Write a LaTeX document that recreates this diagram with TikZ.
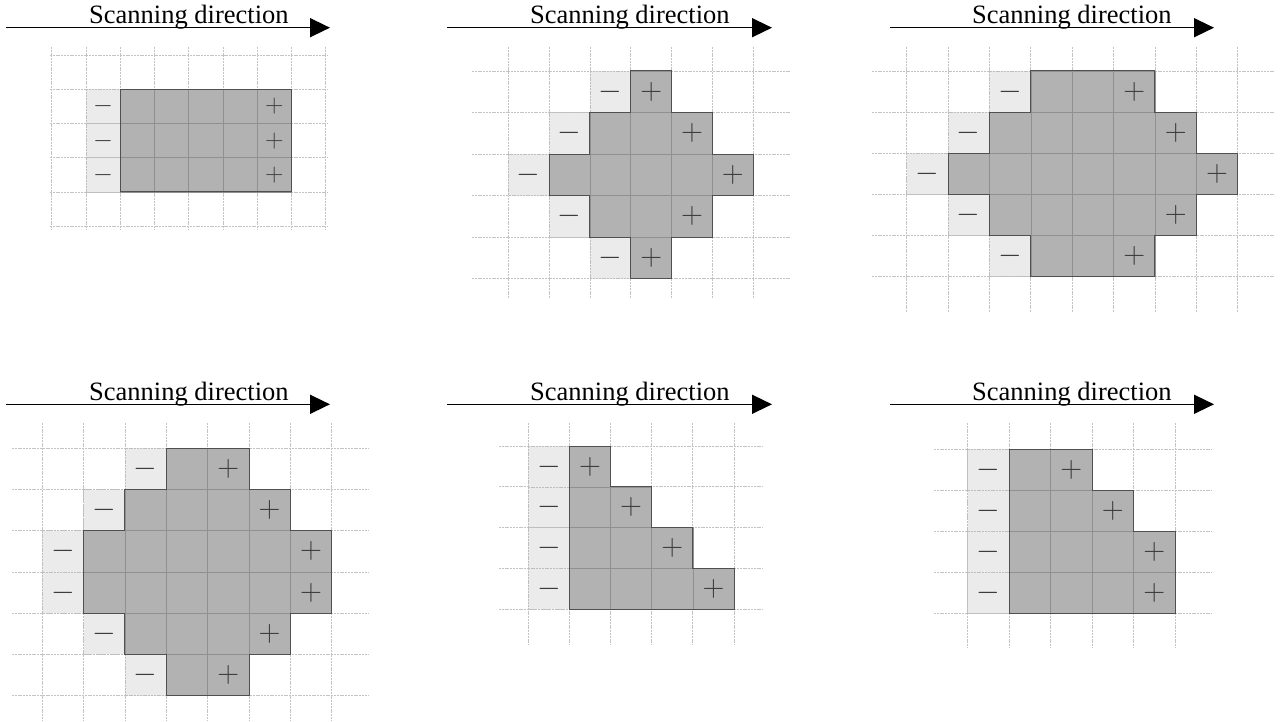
\documentclass[tikz,border=0pt]{standalone}
\usepackage{fontspec}
\newfontfamily\labelfont{Liberation Serif}
\usetikzlibrary{arrows.meta}
\definecolor{gridc}{HTML}{C4C4C4}
\definecolor{darkfill}{HTML}{B2B2B2}
\definecolor{lightfill}{HTML}{EBEBEB}
\definecolor{innerc}{HTML}{909090}
\definecolor{outlinec}{HTML}{505050}
\definecolor{symc}{HTML}{3C3C3C}
\definecolor{lightb}{HTML}{BEBEBE}
\tikzset{
 gridl/.style={draw=gridc, line width=0.8pt, dash pattern=on 2pt off 0.8pt},
 lightcell/.style={fill=lightfill, draw=lightb, line width=0.6pt, dash pattern=on 2pt off 0.8pt},
 darkcell/.style={fill=darkfill, draw=innerc, line width=0.6pt},
 outline/.style={draw=outlinec, line width=1pt, line join=miter},
 sym/.style={inner sep=0pt, text=symc, font=\fontsize{24.88}{26}\selectfont},
 scanlabel/.style={font=\labelfont\fontsize{26.5}{30}\selectfont, inner sep=0pt, anchor=base west},
 scanarrow/.style={draw=black, line width=1.6pt, -{Triangle[length=20pt,width=19pt]}},
}
\newcommand{\setpanel}[4]{\def\Xo{#1}\def\Yo{#2}\def\Sx{#3}\def\Sy{#4}}
\newcommand{\gridlines}[6]{%
 \foreach \ii in {0,...,#1}{\draw[gridl] ({\Xo+\ii*\Sx},#5) -- ({\Xo+\ii*\Sx},#6);}
 \foreach \jj in {0,...,#2}{\draw[gridl] (#3,{\Yo+\jj*\Sy}) -- (#4,{\Yo+\jj*\Sy});}}
\newcommand{\shaperows}[3]{%
 \foreach \rw/\ca/\cb in {#1}{%
  \pgfmathtruncatemacro{\la}{\ca-1}%
  \pgfmathtruncatemacro{\bm}{\cb-1}%
  \path[lightcell] (\la,\rw) rectangle ++(1,1);
  \foreach \cc in {\ca,...,\bm}{\path[darkcell] (\cc,\rw) rectangle ++(1,1);}
  \node[sym, scale=#2] (#3m\rw) at (\la+0.5,\rw+0.5) {$-$};
  \node[sym, scale=#2] (#3p\rw) at (\bm+0.5,\rw+0.5) {$+$};
 }}
\begin{document}
\begin{tikzpicture}[x=1pt,y=-1pt]
\useasboundingbox (0,0) rectangle (1284,722);
% ---------- arrows and labels
\coordinate (s1) at (6,27.7);    \coordinate (e1) at (330,27.7);
\coordinate (s2) at (447,27.7);  \coordinate (e2) at (772,27.7);
\coordinate (s3) at (890,27.7);  \coordinate (e3) at (1214,27.7);
\coordinate (s4) at (6,404.3);   \coordinate (e4) at (330,404.3);
\coordinate (s5) at (447,404.3); \coordinate (e5) at (772,404.3);
\coordinate (s6) at (890,404.3); \coordinate (e6) at (1214,404.3);
\foreach \k in {1,...,6}{\draw[scanarrow] (s\k) -- (e\k);}
\node[scanlabel] (t1) at (89,24) {Scanning direction};
\node[scanlabel] (t2) at (530,24) {Scanning direction};
\node[scanlabel] (t3) at (972,24) {Scanning direction};
\node[scanlabel] (t4) at (89,400.7) {Scanning direction};
\node[scanlabel] (t5) at (530,400.7) {Scanning direction};
\node[scanlabel] (t6) at (972,400.7) {Scanning direction};
% ---------- panel 1
\setpanel{51.7}{55.2}{34.25}{34.2}
\gridlines{8}{5}{50}{328}{47}{230}
\begin{scope}[shift={(\Xo,\Yo)},x=\Sx pt,y=-\Sy pt]
 \shaperows{1/2/7,2/2/7,3/2/7}{1.03}{a}
 \draw[outline] (2,1) rectangle (7,4);
\end{scope}
% ---------- panel 2
\setpanel{508.3}{71}{40.83}{41.54}
\gridlines{6}{5}{472}{791}{47}{298}
\begin{scope}[shift={(\Xo,\Yo)},x=\Sx pt,y=-\Sy pt]
 \shaperows{0/3/4,1/2/5,2/1/6,3/2/5,4/3/4}{1.22}{b}
 \draw[outline] (3,0)--(4,0)--(4,1)--(5,1)--(5,2)--(6,2)--(6,3)--(5,3)--(5,4)--(4,4)--(4,5)--(3,5)--(3,4)--(2,4)--(2,3)--(1,3)--(1,2)--(2,2)--(2,1)--(3,1)--cycle;
\end{scope}
% ---------- panel 3
\setpanel{906.7}{71}{41.38}{41.06}
\gridlines{8}{5}{872}{1275}{47}{313}
\begin{scope}[shift={(\Xo,\Yo)},x=\Sx pt,y=-\Sy pt]
 \shaperows{0/3/6,1/2/7,2/1/8,3/2/7,4/3/6}{1.22}{c}
 \draw[outline] (3,0)--(6,0)--(6,1)--(7,1)--(7,2)--(8,2)--(8,3)--(7,3)--(7,4)--(6,4)--(6,5)--(3,5)--(3,4)--(2,4)--(2,3)--(1,3)--(1,2)--(2,2)--(2,1)--(3,1)--cycle;
\end{scope}
% ---------- panel 4
\setpanel{42.3}{448.3}{41.34}{41.23}
\gridlines{7}{6}{12}{368}{423}{720}
\begin{scope}[shift={(\Xo,\Yo)},x=\Sx pt,y=-\Sy pt]
 \shaperows{0/3/5,1/2/6,2/1/7,3/1/7,4/2/6,5/3/5}{1.22}{d}
 \draw[outline] (3,0)--(5,0)--(5,1)--(6,1)--(6,2)--(7,2)--(7,4)--(6,4)--(6,5)--(5,5)--(5,6)--(3,6)--(3,5)--(2,5)--(2,4)--(1,4)--(1,2)--(2,2)--(2,1)--(3,1)--cycle;
\end{scope}
% ---------- panel 5
\setpanel{528.3}{446}{41.14}{40.83}
\gridlines{5}{4}{499}{763}{423}{645}
\begin{scope}[shift={(\Xo,\Yo)},x=\Sx pt,y=-\Sy pt]
 \shaperows{0/1/2,1/1/3,2/1/4,3/1/5}{1.22}{e}
 \draw[outline] (1,0)--(2,0)--(2,1)--(3,1)--(3,2)--(4,2)--(4,3)--(5,3)--(5,4)--(1,4)--cycle;
\end{scope}
% ---------- panel 6
\setpanel{967.7}{449.3}{41.46}{41}
\gridlines{5}{4}{934}{1212}{423}{648}
\begin{scope}[shift={(\Xo,\Yo)},x=\Sx pt,y=-\Sy pt]
 \shaperows{0/1/3,1/1/4,2/1/5,3/1/5}{1.22}{f}
 \draw[outline] (1,0)--(3,0)--(3,1)--(4,1)--(4,2)--(5,2)--(5,4)--(1,4)--cycle;
\end{scope}
\end{tikzpicture}
\end{document}
